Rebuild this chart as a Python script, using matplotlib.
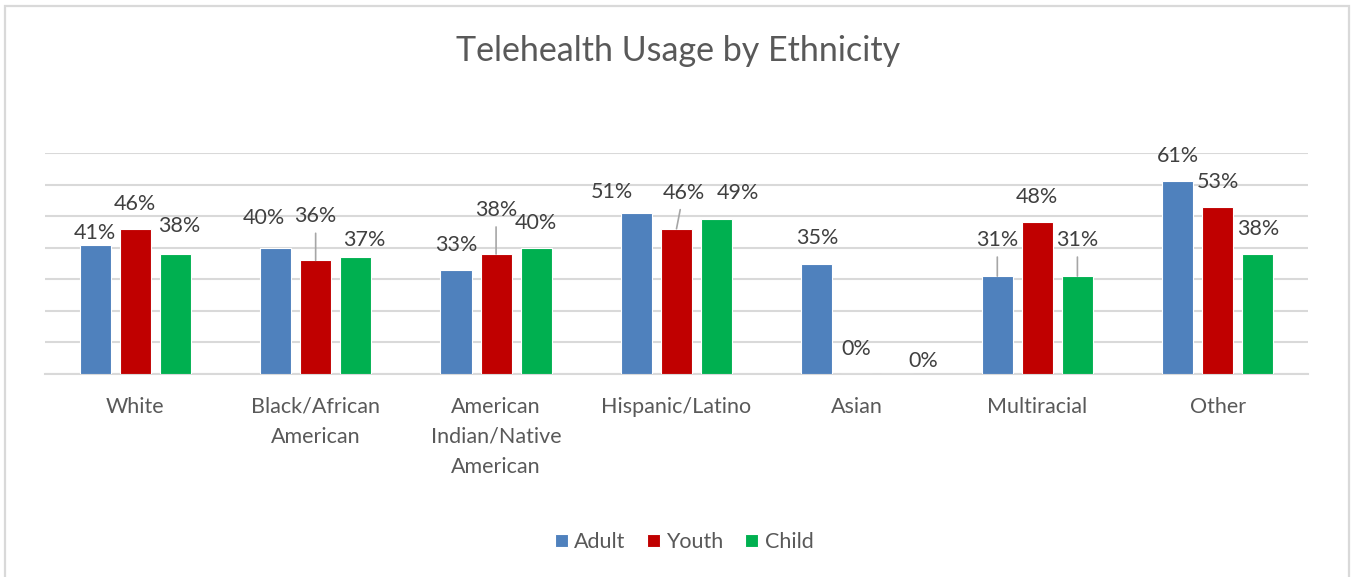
import matplotlib.pyplot as plt
from matplotlib.patches import Rectangle
import numpy as np

plt.rcParams['font.family'] = ['Lato', 'DejaVu Sans']

# Telehealth usage (%) per ethnicity group
categories = ['White', 'Black/African\nAmerican', 'American\nIndian/Native\nAmerican',
              'Hispanic/Latino', 'Asian', 'Multiracial', 'Other']
adult = [41, 40, 33, 51, 35, 31, 61]
youth = [46, 36, 38, 46, 0, 48, 53]
child = [38, 37, 40, 49, 0, 31, 38]
series_names = ['Adult', 'Youth', 'Child']

colors = ['#4f81bd', '#c00000', '#00b050']
grid_color = '#d9d9d9'

# label offsets in pixels from the top centre of each bar (dx, dy, leader line)
label_offsets = {
    'Adult': [(0, 12, False), (-12, 30, False), (0, 25, False), (-25, 21, False),
              (0, 25, False), (0, 36, True), (0, 25, False)],
    'Youth': [(0, 25, False), (0, 44, True), (0, 44, True), (7, 36, True),
              (-1, 25, False), (0, 25, False), (0, 25, False)],
    'Child': [(4, 28, False), (9, 17, False), (0, 25, False), (21, 26, False),
              (26, 13, False), (0, 36, True), (0, 25, False)],
}

W, H = 1351, 577
fs = 15.5
fig = plt.figure(figsize=(W / 100, H / 100), dpi=100)
ax = fig.add_axes([45 / W, (H - 374) / H, (1308 - 45) / W, (374 - 153) / H])

x = np.arange(len(categories))
step = 0.222
width = 0.172
for i, (name, vals) in enumerate(zip(series_names, [adult, youth, child])):
    xs = x + (i - 1) * step
    ax.bar(xs, [v / 100 for v in vals], width=width, color=colors[i],
           edgecolor='white', linewidth=0.8, label=name, zorder=3)
    for xi, v, (dx, dy, leader) in zip(xs, vals, label_offsets[name]):
        arrow = None
        if leader:
            arrow = dict(arrowstyle='-', color='#a6a6a6', lw=1.2,
                         shrinkA=3, shrinkB=0)
        ax.annotate(f'{v}%', xy=(xi, v / 100), xytext=(dx, dy),
                    textcoords='offset pixels', ha='center', va='center',
                    fontsize=fs, color='#404040', arrowprops=arrow, zorder=4)

ax.set_xlim(-0.5, len(categories) - 0.5)
ax.set_ylim(0, 0.70)
ax.set_yticks(np.arange(0, 0.71, 0.1))
ax.yaxis.grid(True, color=grid_color, linewidth=1.5, zorder=0)
ax.tick_params(axis='y', left=False, labelleft=False)
ax.tick_params(axis='x', bottom=False, pad=13)
ax.set_xticks(x)
ax.set_xticklabels(categories, fontsize=fs, color='#595959', linespacing=1.62, va='top')
for side in ['top', 'right', 'left']:
    ax.spines[side].set_visible(False)
ax.spines['bottom'].set_color(grid_color)
ax.spines['bottom'].set_linewidth(1.5)

fig.text(678 / W, 1 - 51 / H, 'Telehealth Usage by Ethnicity', ha='center', va='center',
         fontsize=24.5, color='#595959')

fig.legend(loc='center', bbox_to_anchor=(684 / W, 1 - 542 / H), ncol=3, frameon=False,
           fontsize=fs, labelcolor='#595959', handlelength=0.6, handleheight=0.6,
           handletextpad=0.3, columnspacing=1.0)

# chart border
fig.patches.append(Rectangle((5.5 / W, -0.1), (1349 - 5.5) / W, 1 - 5.5 / H + 0.1,
                             transform=fig.transFigure, fill=False,
                             edgecolor=grid_color, linewidth=1.6))

fig.savefig('out.png', dpi=100)
